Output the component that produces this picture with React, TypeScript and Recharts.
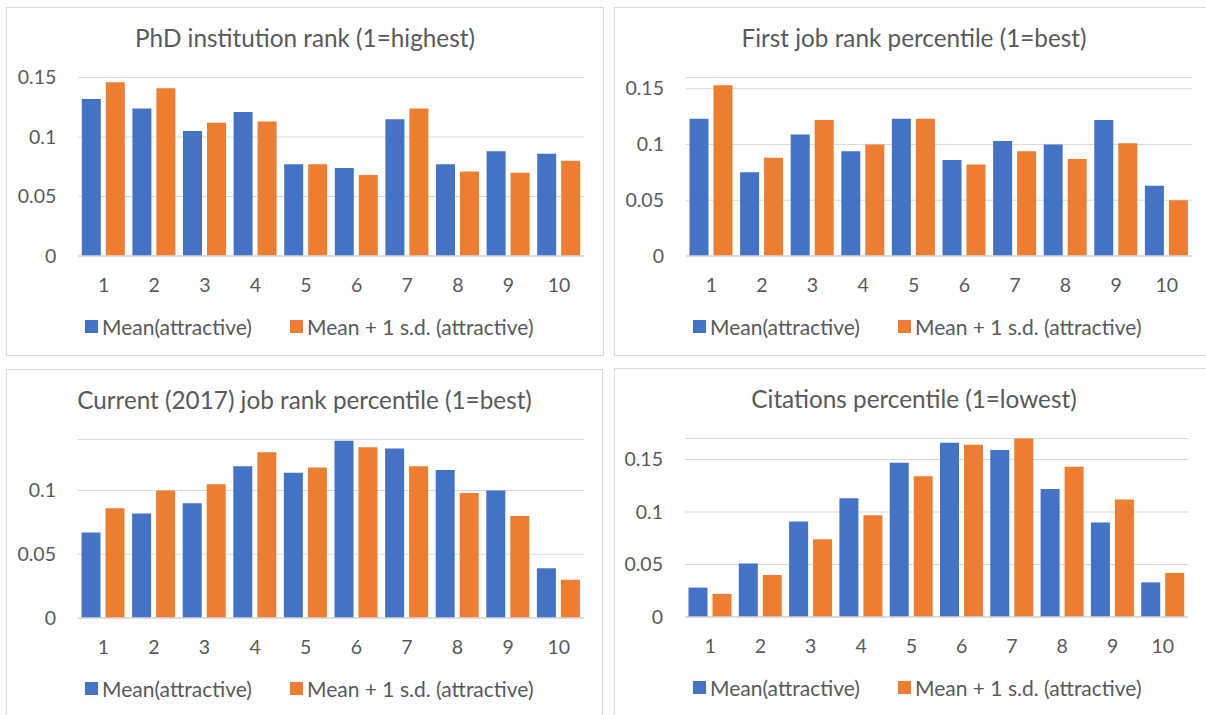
import React from 'react';
import { BarChart, Bar, XAxis, YAxis, CartesianGrid, Legend } from 'recharts';

const categories = ['1', '2', '3', '4', '5', '6', '7', '8', '9', '10'];

const phdMean = [0.132, 0.124, 0.105, 0.121, 0.077, 0.074, 0.115, 0.077, 0.088, 0.086];
const phdSd = [0.146, 0.141, 0.112, 0.113, 0.077, 0.068, 0.124, 0.071, 0.070, 0.080];
const firstMean = [0.123, 0.075, 0.109, 0.094, 0.123, 0.086, 0.103, 0.100, 0.122, 0.063];
const firstSd = [0.153, 0.088, 0.122, 0.100, 0.123, 0.082, 0.094, 0.087, 0.101, 0.050];
const currMean = [0.067, 0.082, 0.090, 0.119, 0.114, 0.139, 0.133, 0.116, 0.100, 0.039];
const currSd = [0.086, 0.100, 0.105, 0.130, 0.118, 0.134, 0.119, 0.098, 0.080, 0.030];
const citMean = [0.028, 0.051, 0.091, 0.113, 0.147, 0.166, 0.159, 0.122, 0.090, 0.033];
const citSd = [0.022, 0.040, 0.074, 0.097, 0.134, 0.164, 0.170, 0.143, 0.112, 0.042];

const ticksA = [0, 0.05, 0.1, 0.15];
const ticksB = [0, 0.05, 0.1];

const seriesNames = ['Mean(attractive)', 'Mean + 1 s.d. (attractive)'];
const titles = [
  'PhD institution rank (1=highest)',
  'First job rank percentile (1=best)',
  'Current (2017) job rank percentile (1=best)',
  'Citations percentile (1=lowest)',
];

const BLUE = '#4472C4';
const ORANGE = '#ED7D31';
const TEXT = '#595959';
const GRID = '#D9D9D9';
const FONT = 'Lato, "Noto Sans", sans-serif';

const Y_AXIS_W = 60;
const X_AXIS_H = 40;
const PLOT_TOP = 70.5;
const PLOT_BOTTOM = 249;

type PanelProps = {
  title: string;
  mean: number[];
  sd: number[];
  ticks: number[];
  domainMax: number;
  left: number;
  top: number;
  width: number;
  height: number;
  plotLeft: number;
  plotRight: number;
};

const XTick = (props: any) => {
  const { x, y, payload } = props;
  return (
    <text x={x} y={y + 29.3} dy="0.35em" textAnchor="middle" fill={TEXT} fontSize={19.5} fontFamily={FONT}>
      {payload.value}
    </text>
  );
};

const YTick = (props: any) => {
  const { x, y, payload } = props;
  return (
    <text x={x - 22} y={y} dy="0.35em" textAnchor="end" fill={TEXT} fontSize={19.5} fontFamily={FONT}>
      {String(payload.value)}
    </text>
  );
};

const LegendContent = (props: any) => {
  const { payload, width } = props;
  const lefts = [79, 284];
  const items = [...(payload || [])].sort(
    (a: any, b: any) => seriesNames.indexOf(a.value) - seriesNames.indexOf(b.value)
  );
  return (
    <div style={{ position: 'relative', width, height: 22 }}>
      {items.map((e: any, i: number) => (
        <div
          key={i}
          style={{ position: 'absolute', left: lefts[i], top: 0, height: 22, display: 'flex', alignItems: 'center', whiteSpace: 'nowrap' }}
        >
          <span style={{ display: 'inline-block', width: 13, height: 13, background: e.color, marginRight: 4 }} />
          <span style={{ fontSize: 21, color: TEXT, fontFamily: FONT, lineHeight: '22px' }}>{e.value}</span>
        </div>
      ))}
    </div>
  );
};

function Panel(p: PanelProps) {
  const data = categories.map((c, i) => ({ cat: c, mean: p.mean[i], sd: p.sd[i] }));
  const margin = {
    top: PLOT_TOP,
    left: p.plotLeft - Y_AXIS_W,
    right: p.width - p.plotRight,
    bottom: p.height - PLOT_BOTTOM - X_AXIS_H,
  };
  return (
    <div
      style={{
        position: 'absolute',
        left: p.left,
        top: p.top,
        width: p.width,
        height: p.height,
        boxSizing: 'border-box',
        border: `1px solid ${GRID}`,
        background: '#fff',
      }}
    >
      <div
        style={{
          position: 'absolute',
          left: -1,
          top: 18,
          width: p.width,
          textAlign: 'center',
          fontFamily: FONT,
          fontSize: 24.3,
          lineHeight: '24px',
          color: TEXT,
          whiteSpace: 'nowrap',
        }}
      >
        {p.title}
      </div>
      <div style={{ position: 'absolute', left: -1, top: -1 }}>
        <BarChart
          width={p.width}
          height={p.height}
          data={data}
          margin={margin}
          barCategoryGap={3.5}
          barGap={5}
        >
          <CartesianGrid vertical={false} stroke={GRID} strokeWidth={1} />
          <XAxis
            dataKey="cat"
            height={X_AXIS_H}
            tickLine={false}
            tickSize={0}
            tickMargin={0}
            axisLine={{ stroke: GRID, strokeWidth: 1.3 }}
            tick={<XTick />}
            interval={0}
          />
          <YAxis
            width={Y_AXIS_W}
            domain={[0, p.domainMax]}
            ticks={p.ticks}
            allowDataOverflow={false}
            axisLine={false}
            tickLine={false}
            tickSize={0}
            tickMargin={0}
            tick={<YTick />}
          />
          <Legend
            verticalAlign="middle"
            align="center"
            layout="horizontal"
            itemSorter={null as any}
            wrapperStyle={{ top: 308.5, left: 0, width: p.width, height: 22, margin: 0 }}
            content={<LegendContent width={p.width} />}
          />
          <Bar dataKey="mean" name={seriesNames[0]} fill={BLUE} isAnimationActive={false} />
          <Bar dataKey="sd" name={seriesNames[1]} fill={ORANGE} isAnimationActive={false} />
        </BarChart>
      </div>
    </div>
  );
}

export default function App() {
  return (
    <div
      style={{
        position: 'absolute',
        left: 0,
        top: 0,
        width: 1206,
        height: 715,
        overflow: 'hidden',
        background: '#fff',
        fontFamily: FONT,
      }}
    >
      <Panel title={titles[0]} mean={phdMean} sd={phdSd} ticks={ticksA} domainMax={0.15}
        left={6} top={7} width={598} height={349} plotLeft={72.3} plotRight={578.3} />
      <Panel title={titles[1]} mean={firstMean} sd={firstSd} ticks={ticksA} domainMax={0.16}
        left={614} top={7} width={600} height={349} plotLeft={72} plotRight={578} />
      <Panel title={titles[2]} mean={currMean} sd={currSd} ticks={ticksB} domainMax={0.14}
        left={6} top={369} width={597} height={360} plotLeft={72} plotRight={578} />
      <Panel title={titles[3]} mean={citMean} sd={citSd} ticks={ticksA} domainMax={0.17}
        left={614} top={368} width={600} height={360} plotLeft={71} plotRight={574} />
    </div>
  );
}
